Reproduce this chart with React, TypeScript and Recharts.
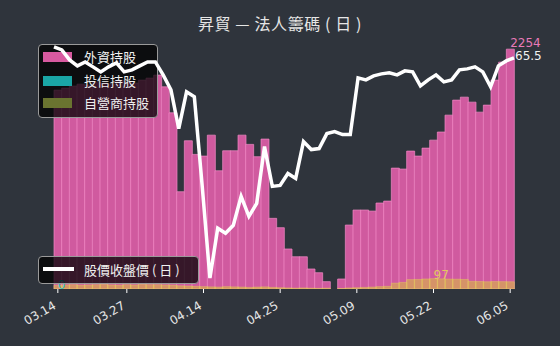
import React from 'react';
import { ComposedChart, Bar, Line, XAxis, YAxis, ReferenceDot } from 'recharts';

const dates = [
  '03.14', '03.17', '03.18', '03.19', '03.20', '03.21', '03.24', '03.25', '03.26', '03.27',
  '03.28', '03.31', '04.01', '04.02', '04.07', '04.08', '04.09', '04.10', '04.11', '04.14',
  '04.15', '04.16', '04.17', '04.18', '04.21', '04.22', '04.23', '04.24', '04.24b', '04.25',
  '04.28', '04.29', '04.30', '05.01', '05.02', '05.05', '05.06', '05.07', '05.08', '05.09',
  '05.12', '05.13', '05.14', '05.15', '05.16', '05.19', '05.20', '05.21', '05.21b', '05.22',
  '05.23', '05.26', '05.27', '05.28', '05.29', '05.30', '06.02', '06.03', '06.04', '06.05',
];

const tickDates = ['03.14', '03.27', '04.14', '04.25', '05.09', '05.22', '06.05'];

// 外資持股
const foreign = [
  1869, 1888, 1907, 1925, 1916, 1944, 1935, 1925, 1963, 1944,
  1935, 1963, 1982, 2010, 1900, 1656, 914, 1393, 1265, 1249,
  1446, 1111, 1299, 1299, 1446, 1359, 1243, 1409, 664, 576,
  376, 303, 303, 188, 153, 69, 0, 94, 601, 742,
  742, 732, 808, 826, 1136, 1127, 1296, 1249, 1324, 1399,
  1475, 1634, 1775, 1803, 1756, 1662, 1728, 1963, 2132, 2254,
];

// 投信持股
const trust = [
  0, 0, 0, 0, 0, 0, 0, 0, 0, 0,
  0, 0, 0, 0, 0, 0, 0, 0, 0, 0,
  0, 0, 0, 0, 0, 0, 0, 0, 0, 0,
  0, 0, 0, 0, 0, 0, 0, 0, 0, 0,
  0, 0, 0, 0, 0, 0, 0, 0, 0, 0,
  0, 0, 0, 0, 0, 0, 0, 0, 0, 0,
];

// 自營商持股
const dealer = [
  35, 38, 40, 36, 38, 40, 42, 38, 36, 40,
  38, 42, 40, 40, 38, 36, 30, 28, 25, 22,
  20, 18, 22, 20, 18, 15, 18, 20, 15, 12,
  10, 8, 10, 8, 6, 8, 0, 5, 10, 12,
  15, 18, 22, 25, 55, 62, 88, 90, 94, 97,
  95, 93, 92, 90, 72, 70, 68, 70, 69, 68,
];

// 股價收盤價
const close = [
  66.6, 66.3, 65.3, 64.7, 65.1, 64.6, 64.1, 64.6, 65.0, 64.1,
  64.3, 64.7, 65.1, 65.1, 63.8, 62.3, 58.4, 62.1, 61.6, 52.7,
  43.4, 48.4, 47.9, 48.7, 51.6, 49.6, 50.9, 56.6, 52.6, 52.7,
  53.9, 53.4, 57.1, 56.3, 56.4, 57.9, 58.1, 57.8, 57.8, 63.5,
  63.3, 63.7, 63.9, 64.0, 63.8, 64.2, 64.1, 62.7, 63.3, 63.8,
  63.1, 63.3, 64.3, 64.4, 64.6, 64.1, 62.6, 64.7, 65.2, 65.5,
];

const data = dates.map((d, i) => ({
  date: d,
  foreign: foreign[i],
  trust: trust[i],
  dealer: dealer[i],
  close: close[i],
}));

const maxIndex = (arr: number[]) => arr.reduce((m, v, i) => (v > arr[m] ? i : m), 0);
const foreignMax = maxIndex(foreign);
const trustMax = maxIndex(trust);
const dealerMax = maxIndex(dealer);
const lastIdx = close.length - 1;

const W = 560;
const H = 346;
const BG = '#2f343c';
const MARGIN = { top: 40, right: 46, bottom: 7, left: 54 };
const NUM_FONT = '"DejaVu Sans", sans-serif';
const CJK_FONT = '"Noto Sans CJK TC", "Noto Sans CJK SC", sans-serif';

const PINK = '#d05a9f';
const CYAN = '#1aa9a9';
const YELLOW = '#d8c23a';

const DateTick = ({ x, y, payload }: any) => (
  <text
    x={x - 1}
    y={y + 13}
    transform={`rotate(-30, ${x - 1}, ${y + 13})`}
    textAnchor="end"
    fill="#e6e6e6"
    fontSize={12}
    fontFamily={NUM_FONT}
  >
    {payload.value}
  </text>
);

// text anchored at a data point, bottom-left corner on the point
const valueText = (text: string | number, color: string, dx = 0, dy = 0) => (props: any) => (
  <text x={props.cx + dx} y={props.cy + dy} fill={color} fontSize={12} fontFamily={NUM_FONT}>
    {text}
  </text>
);

const legendBox: React.CSSProperties = {
  position: 'absolute',
  background: 'rgba(0, 0, 0, 0.74)',
  border: '1px solid #9a9a9a',
  borderRadius: 4,
  boxSizing: 'border-box',
};

const swatch = (color: string, top: number) => (
  <div style={{ position: 'absolute', left: 4, top, width: 29, height: 10, background: color }} />
);

const legendText = (text: string, top: number) => (
  <div
    style={{
      position: 'absolute',
      left: 45,
      top,
      fontSize: 13,
      lineHeight: '18px',
      color: '#f0f0f0',
      fontFamily: CJK_FONT,
      whiteSpace: 'pre',
    }}
  >
    {text}
  </div>
);

export default function App() {
  return (
    <div style={{ position: 'absolute', left: 0, top: 0, width: W, height: H, background: BG, overflow: 'hidden' }}>
      <div
        style={{
          position: 'absolute',
          left: 0,
          top: 12,
          width: W,
          textAlign: 'center',
          fontSize: 16,
          letterSpacing: 0.6,
          lineHeight: '22px',
          color: '#e6e6e6',
          fontFamily: CJK_FONT,
          whiteSpace: 'pre',
        }}
      >
        {'昇貿 — 法人籌碼 ( 日 )'}
      </div>

      <div style={{ position: 'absolute', left: 0, top: 0 }}>
        <ComposedChart width={W} height={H} data={data} margin={MARGIN} barCategoryGap={0} barGap={0}>
          <XAxis
            xAxisId="a"
            dataKey="date"
            ticks={tickDates}
            interval={0}
            height={50}
            axisLine={false}
            tickLine={{ stroke: '#ffffff', strokeWidth: 1 }}
            tickSize={4}
            tick={<DateTick />}
          />
          <XAxis xAxisId="b" dataKey="date" hide />
          <XAxis xAxisId="c" dataKey="date" hide />
          <YAxis yAxisId="v" hide domain={[0, 2340]} allowDataOverflow />
          <Bar xAxisId="a" yAxisId="v" dataKey="foreign" fill={PINK} stroke="#f28ac6" strokeWidth={0.7} isAnimationActive={false} />
          <Bar xAxisId="b" yAxisId="v" dataKey="trust" fill={CYAN} fillOpacity={0.6} isAnimationActive={false} />
          <Bar
            xAxisId="c"
            yAxisId="v"
            dataKey="dealer"
            fill={YELLOW}
            fillOpacity={0.55}
            stroke="#e8d060"
            strokeOpacity={0.7}
            strokeWidth={0.6}
            isAnimationActive={false}
          />
          <ReferenceDot
            xAxisId="a"
            yAxisId="v"
            x={dates[foreignMax]}
            y={foreign[foreignMax]}
            shape={valueText(foreign[foreignMax], '#e87ab8', 0, -2)}
          />
          <ReferenceDot
            xAxisId="a"
            yAxisId="v"
            x={dates[trustMax]}
            y={trust[trustMax]}
            shape={valueText(trust[trustMax], '#2cc4c4')}
          />
          <ReferenceDot
            xAxisId="a"
            yAxisId="v"
            x={dates[dealerMax]}
            y={dealer[dealerMax]}
            shape={valueText(dealer[dealerMax], '#e0c860')}
          />
        </ComposedChart>
      </div>

      <div style={{ ...legendBox, left: 38, top: 44, width: 120, height: 74 }}>
        {swatch('#d85aa0', 7)}
        {legendText('外資持股', 3)}
        {swatch('#1aa6a6', 31)}
        {legendText('投信持股', 27)}
        {swatch('#6a7430', 53)}
        {legendText('自營商持股', 49)}
      </div>

      <div style={{ position: 'absolute', left: 0, top: 0, pointerEvents: 'none' }}>
        <ComposedChart width={W} height={H} data={data} margin={MARGIN}>
          <XAxis dataKey="date" height={50} tick={false} tickLine={false} axisLine={false} />
          <YAxis hide domain={[42.3, 67.3]} allowDataOverflow />
          <Line
            type="linear"
            dataKey="close"
            stroke="#ffffff"
            strokeWidth={3.5}
            dot={false}
            isAnimationActive={false}
          />
          <ReferenceDot x={dates[lastIdx]} y={close[lastIdx]} shape={valueText(close[lastIdx], '#f2f2f2', 1, 2)} />
        </ComposedChart>
      </div>

      <div style={{ ...legendBox, left: 38, top: 256, width: 161, height: 28 }}>
        <div style={{ position: 'absolute', left: 4, top: 10, width: 31, height: 4, background: '#ffffff' }} />
        {legendText('股價收盤價 ( 日 )', 4)}
      </div>
    </div>
  );
}
